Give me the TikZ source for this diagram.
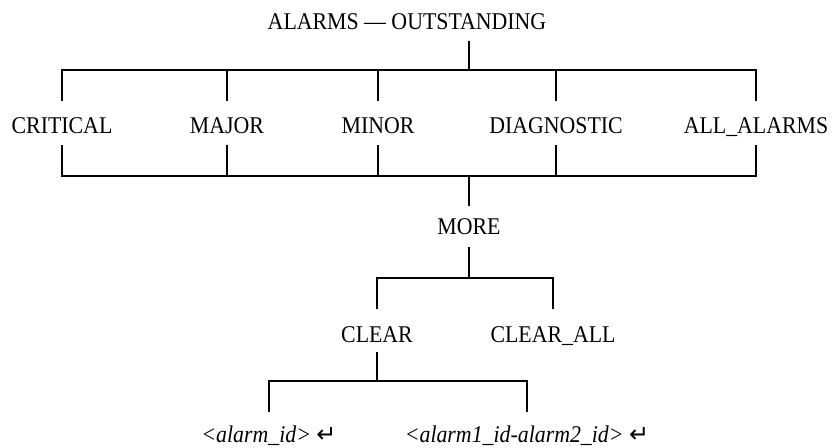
\documentclass[tikz,border=0pt]{standalone}
\usepackage{fontspec}
\setmainfont[FakeStretch=0.91]{Liberation Serif}
\newfontfamily\symfont{DejaVu Sans}
\begin{document}
\begin{tikzpicture}[x=1pt,y=-1pt,
  lbl/.style={anchor=base,inner sep=0pt,font=\fontsize{24}{28}\selectfont},
  tree/.style={line width=2pt,line join=miter}]
\useasboundingbox (0,0) rectangle (832,447);
% levels
\coordinate (a41) at (0,41);
\coordinate (a70) at (0,70);
\coordinate (a101) at (0,101);
\coordinate (a145) at (0,145);
\coordinate (a176) at (0,176);
\coordinate (a206) at (0,206);
\coordinate (a247) at (0,247);
\coordinate (a278) at (0,278);
\coordinate (a309) at (0,309);
\coordinate (a352) at (0,352);
\coordinate (a381) at (0,381);
\coordinate (a412) at (0,412);
% nodes
\node[lbl] (title) at (407,29) {ALARMS — OUTSTANDING};
\node[lbl] (crit) at (62,133) {CRITICAL};
\node[lbl] (major) at (227,133) {MAJOR};
\node[lbl] (minor) at (378,133) {MINOR};
\node[lbl] (diag) at (556,133) {DIAGNOSTIC};
\node[lbl] (all) at (756,133) {ALL\_ALARMS};
\node[lbl] (more) at (469,234) {MORE};
\node[lbl] (clear) at (377,342) {CLEAR};
\node[lbl] (clearall) at (553,342) {CLEAR\_ALL};
\node[lbl] (id1) at (269,442) {\itshape <alarm\_id> {\upshape\symfont\fontsize{24}{26}\selectfont ↵}};
\node[lbl] (id2) at (527,442) {\itshape <alarm1\_id-alarm2\_id> {\upshape\symfont\fontsize{24}{26}\selectfont ↵}};
% connectors
\draw[tree] (more |- a41) -- (more |- a70);
\draw[tree] (crit |- a101) -- (crit |- a70) -- (all |- a70) -- (all |- a101);
\draw[tree] (major |- a70) -- (major |- a101);
\draw[tree] (minor |- a70) -- (minor |- a101);
\draw[tree] (diag |- a70) -- (diag |- a101);
\draw[tree] (crit |- a145) -- (crit |- a176) -- (all |- a176) -- (all |- a145);
\draw[tree] (major |- a145) -- (major |- a176);
\draw[tree] (minor |- a145) -- (minor |- a176);
\draw[tree] (diag |- a145) -- (diag |- a176);
\draw[tree] (more |- a176) -- (more |- a206);
\draw[tree] (more |- a247) -- (more |- a278);
\draw[tree] (clear |- a309) -- (clear |- a278) -- (clearall |- a278) -- (clearall |- a309);
\draw[tree] (clear |- a352) -- (clear |- a381);
\draw[tree] (id1 |- a412) -- (id1 |- a381) -- (id2 |- a381) -- (id2 |- a412);
\end{tikzpicture}
\end{document}
